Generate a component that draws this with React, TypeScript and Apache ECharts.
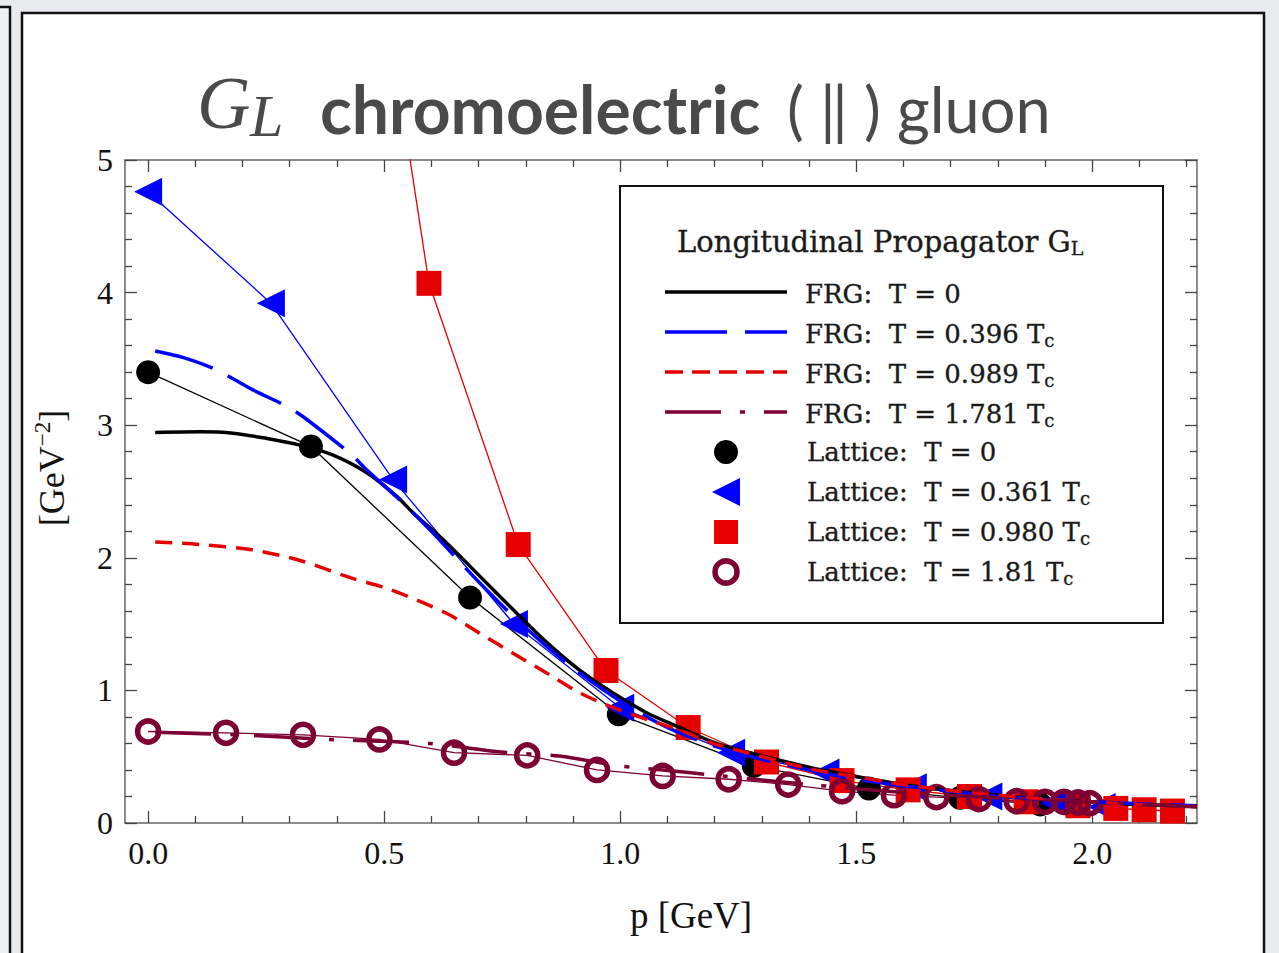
import React, { useEffect, useRef } from "react";
import * as echarts from "echarts";

// ---------- data ----------
// Lattice T = 0
const LAT_T0_P = [0, 0.345, 0.682, 0.997, 1.283, 1.527, 1.72, 1.89];
const LAT_T0_G = [3.4, 2.84, 1.7, 0.82, 0.43, 0.26, 0.19, 0.14];
// Lattice T = 0.361 Tc
const LAT_T361_P = [0, 0.26, 0.519, 0.775, 1.0, 1.235, 1.435, 1.62, 1.78, 1.92, 2.02];
const LAT_T361_G = [4.76, 3.92, 2.59, 1.5, 0.87, 0.53, 0.38, 0.27, 0.2, 0.15, 0.12];
// Lattice T = 0.980 Tc
const LAT_T980_P = [0.4, 0.595, 0.784, 0.97, 1.144, 1.31, 1.47, 1.61, 1.74, 1.86, 1.97, 2.05, 2.11, 2.17];
const LAT_T980_G = [8.6, 4.07, 2.1, 1.15, 0.72, 0.46, 0.32, 0.25, 0.2, 0.16, 0.13, 0.11, 0.1, 0.09];
// Lattice T = 1.81 Tc
const LAT_T181_P = [0, 0.165, 0.328, 0.49, 0.648, 0.803, 0.951, 1.09, 1.23, 1.356, 1.47, 1.58, 1.67, 1.76, 1.84, 1.9, 1.94, 1.97, 1.995];
const LAT_T181_G = [0.69, 0.68, 0.665, 0.63, 0.53, 0.51, 0.4, 0.355, 0.33, 0.29, 0.24, 0.21, 0.195, 0.18, 0.165, 0.16, 0.16, 0.155, 0.15];

// FRG T = 0
const FRG_T0_P = [0.015, 0.11, 0.18, 0.252, 0.322, 0.392, 0.464, 0.528, 0.561, 0.633, 0.703, 0.773, 0.845, 0.915, 0.985, 1.057, 1.127, 1.197, 1.269, 1.4, 1.5, 1.6, 1.7, 1.8, 1.9, 2.0, 2.1, 2.222];
const FRG_T0_G = [2.945, 2.95, 2.94, 2.9, 2.85, 2.775, 2.64, 2.46, 2.34, 2.11, 1.86, 1.61, 1.36, 1.15, 0.98, 0.83, 0.72, 0.61, 0.535, 0.42, 0.35, 0.29, 0.245, 0.21, 0.18, 0.16, 0.14, 0.125];
// FRG T = 0.396 Tc
const FRG_T396_P = [0.015, 0.075, 0.143, 0.22, 0.295, 0.33, 0.43, 0.464, 0.535, 0.6, 0.7, 0.8, 0.9, 1.0, 1.1, 1.2, 1.3, 1.4, 1.5, 1.6, 1.7, 1.8, 1.9, 2.0, 2.1, 2.222];
const FRG_T396_G = [3.56, 3.51, 3.42, 3.27, 3.14, 3.06, 2.78, 2.66, 2.43, 2.2, 1.82, 1.47, 1.17, 0.92, 0.72, 0.58, 0.48, 0.4, 0.33, 0.28, 0.24, 0.2, 0.18, 0.16, 0.145, 0.13];
// FRG T = 0.989 Tc
const FRG_T989_P = [0.015, 0.11, 0.22, 0.322, 0.428, 0.513, 0.633, 0.703, 0.773, 0.845, 0.915, 0.985, 1.057, 1.127, 1.197, 1.27, 1.4, 1.5, 1.6, 1.7, 1.8, 1.9, 2.0, 2.1, 2.222];
const FRG_T989_G = [2.12, 2.1, 2.06, 1.98, 1.85, 1.76, 1.58, 1.43, 1.28, 1.13, 0.98, 0.87, 0.78, 0.7, 0.6, 0.53, 0.41, 0.35, 0.29, 0.245, 0.21, 0.18, 0.16, 0.14, 0.125];
// FRG T = 1.781 Tc
const FRG_T1781_P = [0.015, 0.222, 0.383, 0.595, 0.748, 0.871, 1.0, 1.09, 1.2, 1.4, 1.6, 1.8, 2.0, 2.222];
const FRG_T1781_G = [0.685, 0.66, 0.63, 0.6, 0.535, 0.505, 0.43, 0.4, 0.36, 0.29, 0.23, 0.19, 0.16, 0.12];

// axis ticks
const X_LABEL_TICKS = [0, 0.5, 1.0, 1.5, 2.0];
const X_MINOR_TICKS = [0.1, 0.2, 0.3, 0.4, 0.6, 0.7, 0.8, 0.9, 1.1, 1.2, 1.3, 1.4, 1.6, 1.7, 1.8, 1.9, 2.1, 2.2];

const zip = (p: number[], g: number[]) => p.map((v, i) => [v, g[i]]);

const RED = "#e60000";
const BLUE = "#0000ff";
const MAROON = "#7d0033";
const SERIF = '"Liberation Serif", "Times New Roman", serif';
const LSERIF = '"DejaVu Serif", "Liberation Serif", serif';
const SANS = 'Lato, "Open Sans", sans-serif';

export default function App() {
  const ref = useRef<HTMLDivElement>(null);
  useEffect(() => {
    if (!ref.current) return;
    const chart = echarts.init(ref.current, undefined, { renderer: "svg" });

    const GRID = { left: 125, right: 1279 - 1197, top: 160, bottom: 953 - 823 };
    const axisLine = { show: true, onZero: false, lineStyle: { color: "#666", width: 1.5 } };
    const majorTick = (vals?: number[]) => ({
      show: true,
      inside: true,
      length: 12,
      lineStyle: { color: "#444", width: 1.3 },
      ...(vals ? { customValues: vals } : {}),
    });

    const richA = (fs: number) => ({ fontFamily: LSERIF, fontSize: fs, lineHeight: 30, fill: "#1a1a1a", stroke: "#1a1a1a", lineWidth: 0.35 });
    const richS = { fontFamily: LSERIF, fontSize: 18, lineHeight: 10, verticalAlign: "bottom", fill: "#1a1a1a", stroke: "#1a1a1a", lineWidth: 0.3 };
    const legendTextStyle = (text: string) => ({
      text,
      verticalAlign: "middle",
      rich: { a: richA(26), s: richS },
    });

    const frgRows = [
      { y: 294, text: "{a|FRG:  T = 0}", stroke: "#000", dash: undefined as any },
      { y: 334, text: "{a|FRG:  T = 0.396 T}{s|c}", stroke: BLUE, dash: [62, 18] },
      { y: 374, text: "{a|FRG:  T = 0.989 T}{s|c}", stroke: RED, dash: [18, 9] },
      { y: 414, text: "{a|FRG:  T = 1.781 T}{s|c}", stroke: MAROON, dash: [56, 19, 5, 19] },
    ];
    const latRows = [
      { y: 452, text: "{a|Lattice:  T = 0}" },
      { y: 492, text: "{a|Lattice:  T = 0.361 T}{s|c}" },
      { y: 532, text: "{a|Lattice:  T = 0.980 T}{s|c}" },
      { y: 572, text: "{a|Lattice:  T = 1.81 T}{s|c}" },
    ];

    const graphic: any[] = [
      // page decoration
      { type: "rect", z: -30, silent: true, shape: { x: -10, y: 7, width: 20, height: 990 }, style: { fill: "#eef0f3", stroke: "#111", lineWidth: 2.5 } },
      { type: "rect", z: -30, silent: true, shape: { x: 22, y: 13, width: 1242, height: 990 }, style: { fill: "#ffffff", stroke: "#111", lineWidth: 2.5 } },
      // title
      { type: "text", z: 50, x: 197, y: 103, style: { text: "G", fontFamily: SERIF, fontStyle: "italic", fontSize: 74, fill: "#4a4a4a", verticalAlign: "middle" } },
      { type: "text", z: 50, x: 250, y: 116, style: { text: "L", fontFamily: SERIF, fontStyle: "italic", fontSize: 60, fill: "#4a4a4a", verticalAlign: "middle" } },
      { type: "text", z: 50, x: 320, y: 108, style: { text: "chromoelectric", fontFamily: SANS, fontWeight: "bold", fontSize: 66, fill: "#4a4a4a", verticalAlign: "middle" } },
      { type: "text", z: 50, x: 787, y: 108, style: { text: "( ‖ ) gluon", fontFamily: SANS, fontSize: 63, fill: "#4a4a4a", verticalAlign: "middle" } },
      // axis titles
      { type: "text", z: 50, x: 691, y: 915, style: { text: "p [GeV]", fontFamily: SERIF, fontSize: 37, fill: "#111", align: "center", verticalAlign: "middle" } },
      {
        type: "text", z: 50, x: 52, y: 468, rotation: Math.PI / 2,
        style: {
          text: "{a|[GeV}{b|−2}{a|]}", align: "center", verticalAlign: "middle",
          rich: {
            a: { fontFamily: SERIF, fontSize: 36, lineHeight: 42, fill: "#111" },
            b: { fontFamily: SERIF, fontSize: 23, lineHeight: 24, verticalAlign: "top", fill: "#111" },
          },
        },
      },
      // legend box
      { type: "rect", z: 60, shape: { x: 620, y: 186, width: 543, height: 437 }, style: { fill: "#fff", stroke: "#111", lineWidth: 2 } },
      {
        type: "text", z: 61, x: 677, y: 242,
        style: {
          text: "{a|Longitudinal Propagator G}{s|L}", verticalAlign: "middle",
          rich: { a: richA(29), s: { ...richS, fontSize: 19 } },
        },
      },
      // legend markers
      { type: "circle", z: 61, shape: { cx: 726, cy: 452, r: 12 }, style: { fill: "#000" } },
      { type: "polygon", z: 61, shape: { points: [[712, 492], [740, 478], [740, 506]] }, style: { fill: BLUE } },
      { type: "rect", z: 61, shape: { x: 714, y: 520, width: 24, height: 24 }, style: { fill: RED } },
      { type: "circle", z: 61, shape: { cx: 726, cy: 572, r: 11 }, style: { fill: "#fff", stroke: MAROON, lineWidth: 5.5 } },
    ];
    frgRows.forEach((r) => {
      graphic.push({ type: "line", z: 61, shape: { x1: 665, y1: r.y - 2, x2: 787, y2: r.y - 2 }, style: { stroke: r.stroke, lineWidth: 3.5, lineDash: r.dash } });
      graphic.push({ type: "text", z: 61, x: 805, y: r.y, style: legendTextStyle(r.text) });
    });
    latRows.forEach((r) => {
      graphic.push({ type: "text", z: 61, x: 807, y: r.y, style: legendTextStyle(r.text) });
    });

    const latLine = (name: string, p: number[], g: number[], color: string, extra: any) => ({
      name,
      type: "line",
      xAxisIndex: 0,
      yAxisIndex: 0,
      data: zip(p, g),
      lineStyle: { color, width: 1.3 },
      itemStyle: { color },
      showAllSymbol: true,
      clip: true,
      z: 3,
      ...extra,
    });
    const frgLine = (name: string, p: number[], g: number[], color: string, dash: any) => ({
      name,
      type: "line",
      xAxisIndex: 0,
      yAxisIndex: 0,
      data: zip(p, g),
      smooth: 0.3,
      symbol: "none",
      lineStyle: { color, width: 3.5, type: dash || "solid" },
      clip: true,
      z: 4,
    });

    const minorX = (position: string) => ({
      gridIndex: 1, type: "value", position, min: -0.049, max: 2.222,
      axisLine: { show: false, onZero: false }, splitLine: { show: false },
      axisTick: { show: true, inside: true, length: 7, customValues: X_MINOR_TICKS, lineStyle: { color: "#444", width: 1.3 } },
      axisLabel: { show: false, customValues: X_MINOR_TICKS },
    });

    const option: any = {
      animation: false,
      backgroundColor: "#e8eaee",
      grid: [
        { ...GRID, show: false },
        { ...GRID, show: false },
      ],
      xAxis: [
        {
          gridIndex: 0, type: "value", position: "bottom", min: -0.049, max: 2.222,
          axisLine, axisTick: majorTick(X_LABEL_TICKS), splitLine: { show: false },
          axisLabel: { customValues: X_LABEL_TICKS, formatter: (v: number) => v.toFixed(1), fontFamily: SERIF, fontSize: 32, color: "#111", margin: 14 },
        },
        {
          gridIndex: 0, type: "value", position: "top", min: -0.049, max: 2.222,
          axisLine, axisTick: majorTick(X_LABEL_TICKS), splitLine: { show: false },
          axisLabel: { show: false, customValues: X_LABEL_TICKS },
        },
        minorX("bottom"),
        minorX("top"),
      ],
      yAxis: [
        {
          gridIndex: 0, type: "value", position: "left", min: 0, max: 5, interval: 1,
          axisLine, axisTick: majorTick(), splitLine: { show: false },
          minorTick: { show: true, splitNumber: 5, length: 7, lineStyle: { color: "#444", width: 1.3 } },
          axisLabel: { fontFamily: SERIF, fontSize: 32, color: "#111", margin: 12 },
        },
        {
          gridIndex: 0, type: "value", position: "right", min: 0, max: 5, interval: 1,
          axisLine, axisTick: majorTick(), splitLine: { show: false },
          minorTick: { show: true, splitNumber: 5, length: 7, lineStyle: { color: "#444", width: 1.3 } },
          axisLabel: { show: false },
        },
        { gridIndex: 1, type: "value", min: 0, max: 5, show: false, axisLine: { onZero: false } },
      ],
      graphic,
      series: [
        latLine("Lattice: T = 0", LAT_T0_P, LAT_T0_G, "#000", { symbol: "circle", symbolSize: 24 }),
        latLine("Lattice: T = 0.361 Tc", LAT_T361_P, LAT_T361_G, BLUE, { symbol: "triangle", symbolSize: [28, 28], symbolRotate: 90 }),
        latLine("Lattice: T = 0.980 Tc", LAT_T980_P, LAT_T980_G, RED, { symbol: "rect", symbolSize: 25 }),
        latLine("Lattice: T = 1.81 Tc", LAT_T181_P, LAT_T181_G, MAROON, {
          symbol: "circle", symbolSize: 21,
          itemStyle: { color: "rgba(255,255,255,0)", borderColor: MAROON, borderWidth: 5.5 },
        }),
        frgLine("FRG: T = 0", FRG_T0_P, FRG_T0_G, "#000", null),
        frgLine("FRG: T = 0.396 Tc", FRG_T396_P, FRG_T396_G, BLUE, [60, 17]),
        frgLine("FRG: T = 0.989 Tc", FRG_T989_P, FRG_T989_G, RED, [17, 10]),
        frgLine("FRG: T = 1.781 Tc", FRG_T1781_P, FRG_T1781_G, MAROON, [56, 19, 5, 19]),
      ],
    };
    chart.setOption(option);
    return () => chart.dispose();
  }, []);

  return <div ref={ref} style={{ position: "absolute", left: 0, top: 0, width: 1279, height: 953 }} />;
}
